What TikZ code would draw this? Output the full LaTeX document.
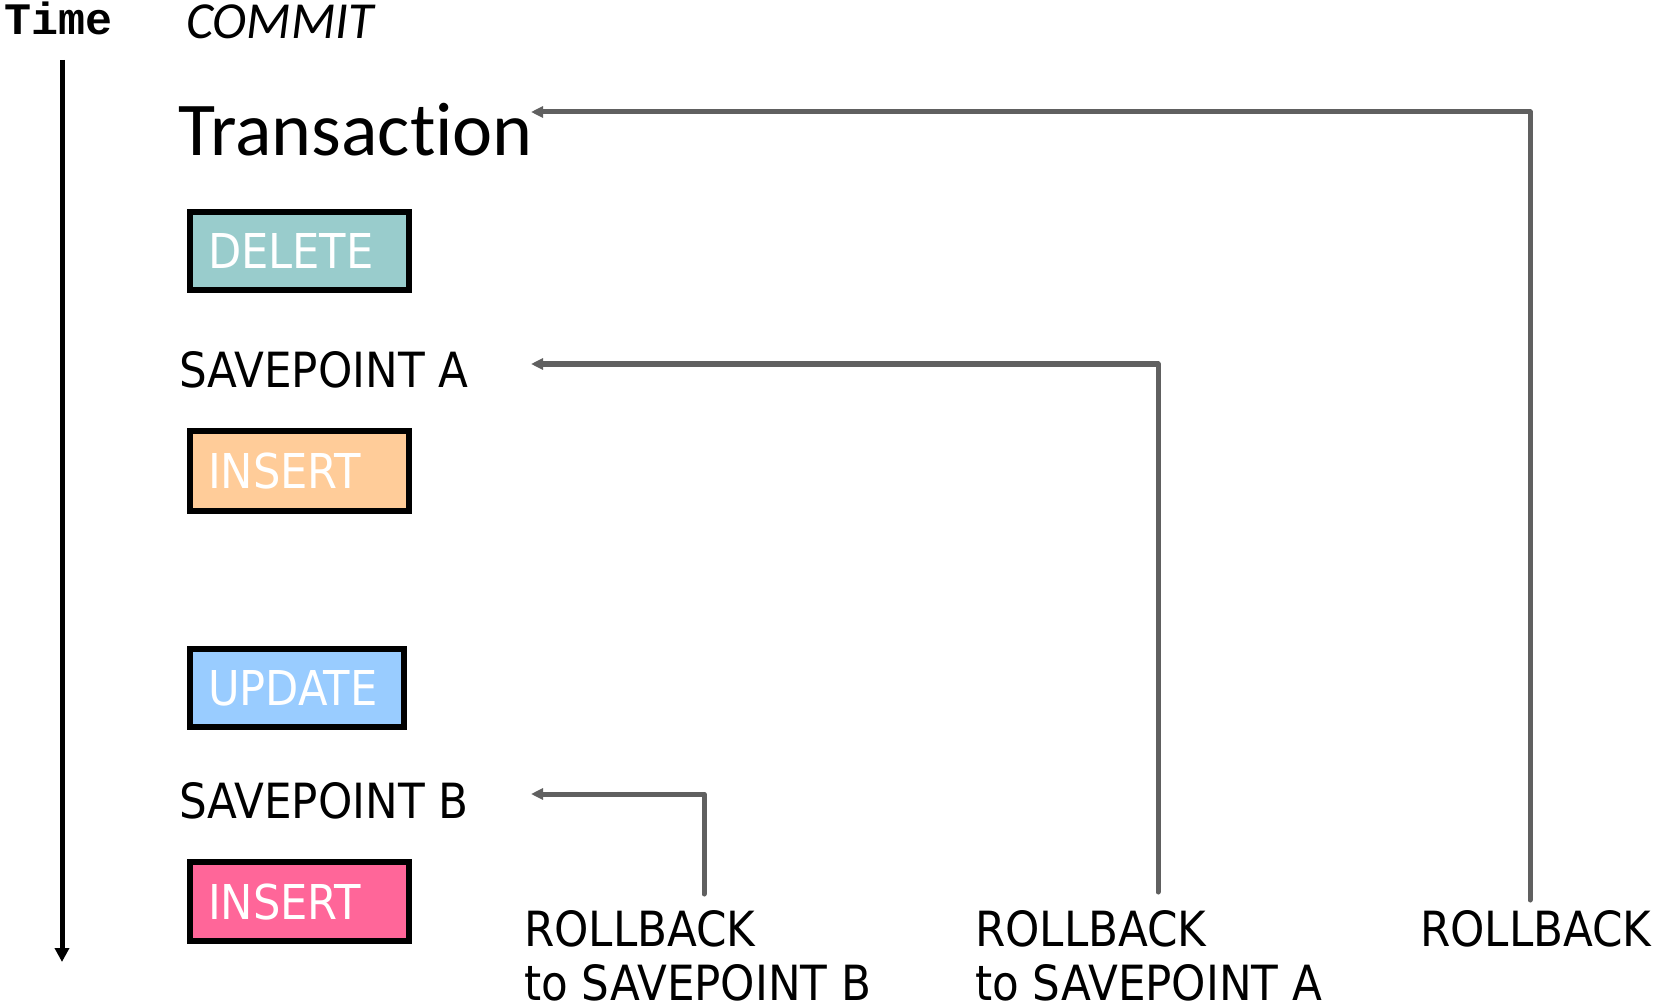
\documentclass[tikz,border=0pt]{standalone}
\usepackage{fontspec}
\setmainfont{DejaVu Sans Condensed}
\newfontfamily\calfont[Ligatures=NoCommon]{Carlito}
\newfontfamily\monofont{Liberation Mono}
\usetikzlibrary{arrows.meta}
\definecolor{teal1}{HTML}{99CCCC}
\definecolor{orange1}{HTML}{FFCC99}
\definecolor{blue1}{HTML}{99CCFF}
\definecolor{pink1}{HTML}{FF6699}
\definecolor{conn}{HTML}{606060}
\tikzset{
  opbox/.style={draw=black, line width=6pt, inner xsep=18pt, inner ysep=0pt,
    text=white, align=left, font=\fontsize{48}{52}\selectfont,
    text height=35pt, text depth=0pt, anchor=center},
  lbl/.style={anchor=base west, inner sep=0pt, font=\fontsize{48.5}{56}\selectfont},
  conline/.style={draw=conn, line width=5pt, line cap=round, line join=round,
    -{Triangle[length=12pt,width=11pt]}},
}
\begin{document}
\begin{tikzpicture}[x=1pt,y=-1pt]
\useasboundingbox (0,0) rectangle (1655,1008);
% time axis
\node[anchor=base west, inner sep=0pt, font=\monofont\bfseries\fontsize{45}{46}\selectfont] (time) at (4,35) {Time};
\coordinate (t0) at (62,60);
\coordinate (t1) at (62,962);
\draw[line width=5pt, -{Triangle[length=14pt,width=14pt]}] (t0) -- (t1);
\node[anchor=base west, inner sep=0pt, font=\calfont\itshape\fontsize{52}{56}\selectfont] (commit) at (186,39) {COMMIT};
\node[anchor=base west, inner sep=0pt, font=\calfont\fontsize{76}{80}\selectfont] (trans) at (178,156) {Transaction};
% boxes
\node[opbox, fill=teal1, text width=183pt, minimum height=78pt] (del) at (299.5,251) {DELETE};
\node[lbl] (spA) at (179,387) {SAVEPOINT A};
\node[opbox, fill=orange1, text width=183pt, minimum height=80pt] (ins1) at (299.5,471) {INSERT};
\node[opbox, fill=blue1, text width=178pt, minimum height=78pt] (upd) at (297,688) {UPDATE};
\node[lbl] (spB) at (179,818) {SAVEPOINT B};
\node[opbox, fill=pink1, text width=183pt, minimum height=79pt] (ins2) at (299.5,901.5) {INSERT};
% rollback labels
\node[lbl] (rbB) at (524,946) {ROLLBACK};
\node[lbl] (rbB2) at (524,1000) {to SAVEPOINT B};
\node[lbl] (rbA) at (975,946) {ROLLBACK};
\node[lbl] (rbA2) at (975,1000) {to SAVEPOINT A};
\node[lbl] (rb) at (1420,946) {ROLLBACK};
% arrow targets
\coordinate (tipT) at (531,112);
\coordinate (tipA) at (531,364);
\coordinate (tipB) at (531,794);
\coordinate (srcB) at (704,894);
\coordinate (srcA) at (1158,892);
\coordinate (srcR) at (1530,900);
\draw[conline] (srcB) |- (tipB);
\draw[conline] (srcA) |- (tipA);
\draw[conline] (srcR) |- (tipT);
\end{tikzpicture}
\end{document}
